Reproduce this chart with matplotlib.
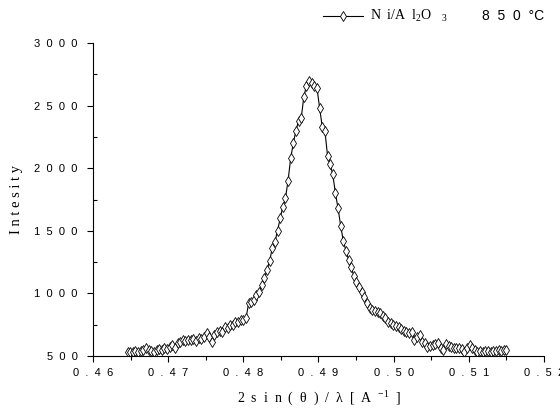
import numpy as np
import matplotlib
matplotlib.use("Agg")
import matplotlib.pyplot as plt
from matplotlib.ticker import MultipleLocator, FuncFormatter
from matplotlib.lines import Line2D

plt.rcParams['mathtext.fontset'] = 'custom'
plt.rcParams['mathtext.rm'] = 'Liberation Serif'
plt.rcParams['mathtext.it'] = 'Liberation Serif:italic'

# scan grid (evenly spaced measurement points)
x_start = 0.4646
x_end = 0.5150

intensity = [
    530, 535, 528, 536, 530, 540, 545, 565, 548, 540,
    535, 545, 552, 545, 560, 555, 575, 585, 560, 600,
    612, 625, 618, 630, 625, 632, 622, 640, 635, 650,
    683, 650, 612, 665, 690, 700, 695, 730, 722, 750,
    745, 770, 775, 790, 785, 800, 920, 935, 950, 985,
    1010, 1070, 1120, 1190, 1260, 1360, 1410, 1500, 1600, 1690,
    1760, 1900, 2080, 2200, 2300, 2380, 2400, 2570, 2660, 2700,
    2680, 2660, 2640, 2480, 2330, 2300, 2100, 2030, 1950, 1800,
    1680, 1540, 1420, 1340, 1270, 1210, 1140, 1090, 1050, 1010,
    970, 920, 880, 868, 862, 850, 840, 820, 800, 770,
    760, 745, 738, 728, 715, 700, 692, 685, 690, 628,
    650, 668, 612, 600, 572, 580, 590, 598, 604, 560,
    548, 596, 580, 572, 565, 564, 560, 556, 532, 560,
    588, 560, 548, 535, 540, 535, 538, 540, 535, 542,
    538, 545, 540, 545, 545,
]
x = np.linspace(x_start, x_end, len(intensity))

x_ticks = [0.46, 0.47, 0.48, 0.49, 0.50, 0.51, 0.52]
y_ticks = [500, 1000, 1500, 2000, 2500, 3000]
series_label_a = r'N  i/A  l$_{2}$O   $_{3}$'
series_label_b = '8  5  0  °C'
x_label = r'2  s  i  n  (  θ  )  /  λ  [  A  $^{-1}$  ]'
y_label = 'I n t e s i t y'

W, H = 560, 408
fig = plt.figure(figsize=(W / 100, H / 100), dpi=100)
ax = fig.add_axes([93 / W, 1 - 356 / H, (544 - 93) / W, (356 - 43) / H])

ax.plot(x, intensity, color='black', lw=0.8, marker='d', markersize=4.6,
        markerfacecolor='white', markeredgecolor='black', markeredgewidth=0.6)

ax.set_xlim(0.46, 0.52)
ax.set_ylim(500, 3000)
ax.spines['top'].set_visible(False)
ax.spines['right'].set_visible(False)
ax.spines['left'].set_linewidth(0.8)
ax.spines['bottom'].set_linewidth(0.8)

ax.set_xticks(x_ticks)
ax.set_yticks(y_ticks)
ax.xaxis.set_minor_locator(MultipleLocator(0.005))
ax.yaxis.set_minor_locator(MultipleLocator(250))
ax.xaxis.set_major_formatter(FuncFormatter(lambda v, p: '  '.join(f'{v:.2f}')))
ax.yaxis.set_major_formatter(FuncFormatter(lambda v, p: '  '.join(f'{int(round(v))}')))

for lab in ax.get_xticklabels() + ax.get_yticklabels():
    lab.set_fontfamily('Liberation Sans')
    lab.set_fontsize(8)

ax.tick_params(axis='x', which='major', direction='out', length=4, width=0.8, pad=5)
ax.tick_params(axis='x', which='minor', direction='out', length=3, width=0.8)
ax.tick_params(axis='y', which='major', direction='out', length=4, width=0.8, pad=7)
ax.tick_params(axis='y', which='minor', direction='in', length=3, width=0.8)

ax.set_xlabel(x_label, fontfamily='Liberation Serif', fontsize=10, labelpad=8)
ax.set_ylabel(y_label, fontfamily='Liberation Serif', fontsize=10.5, labelpad=8)

# legend drawn by hand in figure pixels
fig.add_artist(Line2D([323 / W, 363 / W], [1 - 16 / H, 1 - 16 / H], color='black', lw=0.8,
                      transform=fig.transFigure))
fig.add_artist(Line2D([343 / W], [1 - 16 / H], marker='d', markersize=4.6, markerfacecolor='white',
                      markeredgecolor='black', markeredgewidth=0.6, transform=fig.transFigure))
fig.text(370 / W, 1 - 20 / H, series_label_a, fontfamily='Liberation Serif', fontsize=10,
         ha='left', va='baseline')
fig.text(482 / W, 1 - 20 / H, series_label_b, fontfamily='Liberation Sans', fontsize=10,
         ha='left', va='baseline')

fig.savefig('out.png', dpi=100)
